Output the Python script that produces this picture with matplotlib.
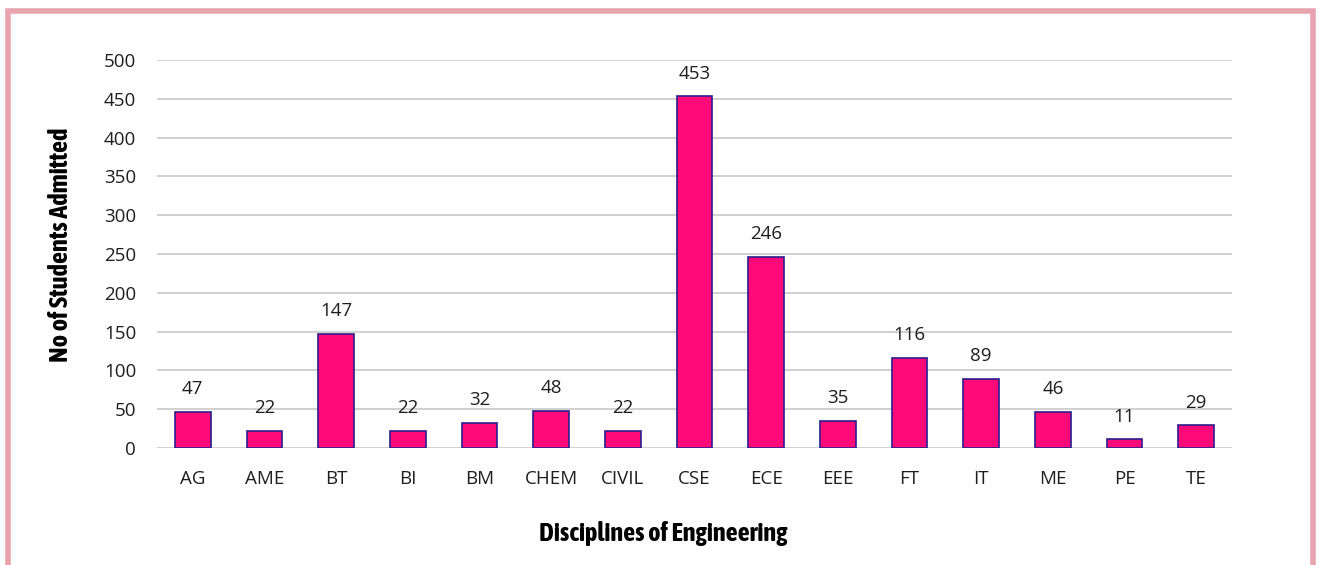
import matplotlib
matplotlib.use("Agg")
import matplotlib.pyplot as plt
from matplotlib.patches import Rectangle

categories = ["AG", "AME", "BT", "BI", "BM", "CHEM", "CIVIL", "CSE", "ECE", "EEE", "FT", "IT", "ME", "PE", "TE"]
students = [47, 22, 147, 22, 32, 48, 22, 453, 246, 35, 116, 89, 46, 11, 29]
yticks = [0, 50, 100, 150, 200, 250, 300, 350, 400, 450, 500]

body = "Open Sans"
title_font = dict(family=["Asap Condensed", "DejaVu Sans"], fontweight="bold", fontsize=19)

W, H = 1320, 565
fig = plt.figure(figsize=(W / 100, H / 100), dpi=100)
ax = fig.add_axes([157 / W, 1 - 448 / H, (1232 - 157) / W, (448 - 60) / H])

x = range(len(categories))
ax.bar(x, students, width=0.5, color="#FF0A78", edgecolor="#2B1D8C", linewidth=1.2, zorder=3)
for xi, v in zip(x, students):
    ax.annotate(str(v), (xi, v), xytext=(0, 10), textcoords="offset points",
                ha="center", va="bottom", fontsize=13.5, family=body, color="#1E1E1E")

ax.set_xlim(-0.5, len(categories) - 0.5)
ax.set_ylim(0, 500)
ax.set_yticks(yticks)
ax.yaxis.grid(True, color="#D0D0D0", linewidth=1.4, zorder=0)
ax.set_axisbelow(True)
for s in ax.spines.values():
    s.set_visible(False)
ax.tick_params(length=0)
ax.set_xticks(list(x))
ax.set_xticklabels(categories, fontsize=13.5, family=body, color="#1E1E1E")
ax.tick_params(axis="x", pad=16)
ax.tick_params(axis="y", pad=15)
for lab in ax.get_yticklabels():
    lab.set_fontsize(13.5)
    lab.set_family(body)
    lab.set_color("#1E1E1E")

ax.set_ylabel("No of Students Admitted", **title_font)
ax.yaxis.set_label_coords(-(157 - 61) / (1232 - 157), (448 - 245) / (448 - 60))
ax.set_xlabel("Disciplines of Engineering", **title_font)
ax.xaxis.set_label_coords((663 - 157) / (1232 - 157), -(534 - 448) / (448 - 60))
ax.xaxis.label.set_va("center")
ax.yaxis.label.set_va("center")

fig.patches.append(Rectangle((7.5 / W, -0.05), (1312.5 - 7.5) / W, 1 - 11 / H + 0.05,
                             transform=fig.transFigure, fill=False,
                             edgecolor="#E9A3AE", linewidth=4, zorder=10))

fig.savefig("out.png", dpi=100)
